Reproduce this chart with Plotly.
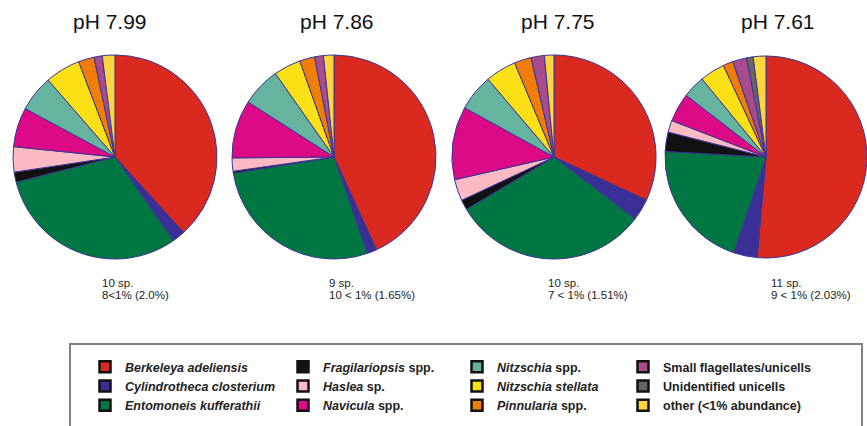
import plotly.graph_objects as go

# Taxa, in slice order (clockwise from 12 o'clock)
taxa = [
    "<i>Berkeleya adeliensis</i>",
    "<i>Cylindrotheca closterium</i>",
    "<i>Entomoneis kufferathii</i>",
    "<i>Fragilariopsis</i> spp.",
    "<i>Haslea</i> sp.",
    "<i>Navicula</i> spp.",
    "<i>Nitzschia</i> spp.",
    "<i>Nitzschia stellata</i>",
    "<i>Pinnularia</i> spp.",
    "Small flagellates/unicells",
    "Unidentified unicells",
    "other (<1% abundance)",
]
colors = [
    "#DA291F", "#3A2F96", "#007643", "#111111", "#FDB9C4", "#DC0A86",
    "#66B3A0", "#FAE015", "#F07D05", "#A94C8E", "#666666", "#FDD63D",
]

# Relative abundance (%) per pH treatment
ph_labels = ["pH 7.99", "pH 7.86", "pH 7.75", "pH 7.61"]
abund_799 = [38.3, 2.0, 30.8, 1.6, 4.0, 6.25, 5.75, 5.6, 2.5, 1.3, 0, 2.0]
abund_786 = [43.2, 1.5, 27.8, 0.3, 2.1, 9.2, 6.2, 4.3, 2.4, 1.4, 0, 1.65]
abund_775 = [32.0, 3.4, 31.1, 1.6, 3.4, 11.6, 5.8, 4.9, 2.7, 2.1, 0, 1.51]
abund_761 = [51.4, 3.75, 20.7, 3.1, 1.9, 4.6, 3.6, 4.0, 1.6, 2.25, 1.05, 2.03]
species_counts = ["10 sp.", "9 sp.", "10 sp.", "11 sp."]
rare_notes = ["8<1% (2.0%)", "10 < 1% (1.65%)", "7 < 1% (1.51%)", "9 < 1% (2.03%)"]

W, H = 867, 426
FONT = "Liberation Sans, Arial, sans-serif"

# pie placement in pixels: (left, right) of each square domain
pie_px = [(13, 217), (232, 436), (452, 656), (665, 867)]
pie_top, pie_bot = 55, 259
title_x = [110, 337, 558, 778]
note_x = [100, 327, 546, 769]

fig = go.Figure()
for vals, (x0, x1) in zip([abund_799, abund_786, abund_775, abund_761], pie_px):
    keep = [i for i, v in enumerate(vals) if v > 0]
    fig.add_trace(go.Pie(
        labels=[taxa[i] for i in keep],
        values=[vals[i] for i in keep],
        marker=dict(colors=[colors[i] for i in keep],
                    line=dict(color="#3b3493", width=1)),
        sort=False, direction="clockwise", rotation=0,
        textinfo="none", hoverinfo="label+percent",
        showlegend=False,
        domain=dict(x=[x0 / W, x1 / W], y=[1 - pie_bot / H, 1 - pie_top / H]),
    ))

# legend keys, split into four columns of three
legend_cols = [85, 283, 457, 623]
for i, (name, col) in enumerate(zip(taxa, colors)):
    lg = "legend" if i // 3 == 0 else f"legend{i // 3 + 1}"
    fig.add_trace(go.Scatter(
        x=[None], y=[None], mode="markers", name=name, legend=lg,
        marker=dict(symbol="square", size=11, color=col,
                    line=dict(color="#111111", width=2.5)),
        hoverinfo="skip",
    ))

legend_common = dict(
    orientation="v", xanchor="left", yanchor="middle", y=1 - 386 / H,
    bgcolor="rgba(0,0,0,0)", borderwidth=0, tracegroupgap=0,
    font=dict(family=FONT, size=12.5, weight="bold", color="#222222"),
)
layout_legends = {}
for k, lx in enumerate(legend_cols):
    key = "legend" if k == 0 else f"legend{k + 1}"
    layout_legends[key] = dict(legend_common, x=lx / W)

annotations = []
for t, tx in zip(ph_labels, title_x):
    annotations.append(dict(
        text=t, x=tx / W, y=1 - 22 / H, xref="paper", yref="paper",
        xanchor="center", yanchor="middle", showarrow=False,
        font=dict(family=FONT, size=21, color="#111111"),
    ))
for line_y, texts in ((282.5, species_counts), (294.5, rare_notes)):
    for n, nx in zip(texts, note_x):
        annotations.append(dict(
            text=n, x=nx / W, y=1 - line_y / H, xref="paper", yref="paper",
            xanchor="left", yanchor="middle", align="left", showarrow=False,
            font=dict(family=FONT, size=11.5, color="#222222"),
        ))

fig.update_layout(
    width=W, height=H,
    margin=dict(l=0, r=0, t=0, b=0),
    paper_bgcolor="white", plot_bgcolor="white",
    xaxis=dict(visible=False, domain=[0, 0.01]),
    yaxis=dict(visible=False, domain=[0, 0.01]),
    annotations=annotations,
    shapes=[dict(
        type="rect", xref="paper", yref="paper",
        x0=70 / W, x1=862 / W, y0=-0.05, y1=1 - 344 / H,
        line=dict(color="#808080", width=2), fillcolor="rgba(0,0,0,0)",
    )],
    **layout_legends,
)

fig.write_html("out.html")
